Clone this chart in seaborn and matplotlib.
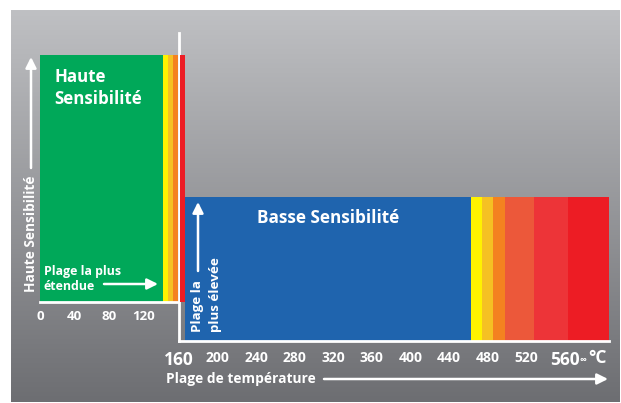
import numpy as np
import seaborn as sns
import matplotlib.pyplot as plt

# ======================================
# DATA
# ======================================

# high sensitivity range (left panel), temperature edges
left_starts = [0, 143, 149, 155, 162.5]
left_ends = [143, 149, 155, 160.5, 168.5]
left_colors = ["#00a859", "#fff200", "#f5c123", "#f48220", "#ed1c24"]
left_ticks = [0, 40, 80, 120]

# low sensitivity range (right panel)
right_starts = [166, 463, 474, 486, 498, 528, 563.5]
right_ends = [463, 474, 486, 498, 528, 563.5, 606]
right_colors = ["#1f64ae", "#fff200", "#f5c123", "#f48220",
                "#ec583a", "#ed3438", "#ed1c24"]
right_ticks = [160, 200, 240, 280, 320, 360, 400, 440, 480, 520, 560]

high_level = 1.0
low_level = 1.0

# ======================================
# STYLE
# ======================================

sns.set_theme(style="white")
plt.rcParams["font.family"] = ["Open Sans", "DejaVu Sans"]

W, H = 621, 403
fig = plt.figure(figsize=(W / 100, H / 100), dpi=100)
fig.patch.set_facecolor("white")


def frac(x0, y0, x1, y1):
    # pixel box -> figure fraction rect
    return [x0 / W, 1 - y1 / H, (x1 - x0) / W, (y1 - y0) / H]


# background gradient
bg = fig.add_axes([0, 0, 1, 1], zorder=0)
grad = np.linspace(0, 1, 256).reshape(-1, 1)
top = np.array([0xbf, 0xc0, 0xc3]) / 255
bot = np.array([0x6d, 0x6e, 0x72]) / 255
img = top + (bot - top) * grad[..., None]
bg.imshow(img, extent=[11, 620, 402, 10], aspect="auto")
bg.set_xlim(0, W)
bg.set_ylim(H, 0)
bg.axis("off")

# ======================================
# LEFT PANEL
# ======================================

axl = fig.add_axes(frac(40, 55, 185, 302), zorder=2)
axl.patch.set_alpha(0)
axl.bar(
    left_starts,
    [high_level] * len(left_starts),
    width=np.array(left_ends) - np.array(left_starts),
    align="edge",
    color=left_colors,
    linewidth=0
)
axl.set_xlim(0, 168.6)
axl.set_ylim(0, 1)
sns.despine(ax=axl, left=True)
axl.spines["bottom"].set_color("white")
axl.spines["bottom"].set_linewidth(2)
axl.spines["bottom"].set_bounds(0, 160.5)
axl.set_yticks([])
axl.set_xticks(left_ticks)
axl.tick_params(axis="x", direction="inout", length=8, width=1.5,
                color="white", labelcolor="white", labelsize=9.5, pad=2)
for lab in axl.get_xticklabels():
    lab.set_fontweight("bold")

# ======================================
# RIGHT PANEL
# ======================================

axr = fig.add_axes(frac(179, 33, 609, 341), zorder=1)
axr.patch.set_alpha(0)
axr.bar(
    right_starts,
    [low_level] * len(right_starts),
    width=np.array(right_ends) - np.array(right_starts),
    align="edge",
    color=right_colors,
    linewidth=0
)
axr.set_xlim(160, 606)
axr.set_ylim(0, 308 / 144)
sns.despine(ax=axr)
for side in ["bottom", "left"]:
    axr.spines[side].set_color("white")
    axr.spines[side].set_linewidth(2)
    axr.spines[side].set_zorder(5)
axr.set_yticks([])
axr.set_xticks(right_ticks)
axr.tick_params(axis="x", direction="inout", length=9, width=1.5,
                color="white", labelcolor="white", labelsize=10, pad=3)
for lab in axr.get_xticklabels():
    lab.set_fontweight("bold")
    if lab.get_text() in ["160", "560"]:
        lab.set_fontsize(12.5)

# ======================================
# ANNOTATIONS (pixel coordinates)
# ======================================

ov = fig.add_axes([0, 0, 1, 1], zorder=10)
ov.patch.set_alpha(0)
ov.set_xlim(0, W)
ov.set_ylim(H, 0)
ov.axis("off")

txt = dict(color="white", fontweight="bold")
arrow = dict(arrowstyle="-|>", color="white", lw=1.8, mutation_scale=16,
             shrinkA=0, shrinkB=0)

ov.text(54, 82, "Haute", fontsize=12.2, va="baseline", **txt)
ov.text(54, 104, "Sensibilité", fontsize=12.2, va="baseline", **txt)

ov.text(44, 275, "Plage la plus", fontsize=8.9, va="baseline", **txt)
ov.text(44, 290, "étendue", fontsize=8.9, va="baseline", **txt)
ov.annotate("", xy=(158, 284), xytext=(104, 284), arrowprops=arrow)

ov.text(31, 292, "Haute Sensibilité", fontsize=9.8, rotation=90,
        ha="center", va="bottom", **txt)
ov.annotate("", xy=(31, 57), xytext=(31, 168), arrowprops=arrow)

ov.text(257, 223, "Basse Sensibilité", fontsize=12.3, va="baseline", **txt)

ov.text(197, 332, "Plage la", fontsize=9.6, rotation=90,
        ha="center", va="bottom", **txt)
ov.text(215, 332, "plus élevée", fontsize=9.6, rotation=90,
        ha="center", va="bottom", **txt)
ov.annotate("", xy=(198, 202), xytext=(198, 271), arrowprops=arrow)

ov.text(166, 379, "Plage de température", fontsize=9.9,
        va="center", **txt)
ov.annotate("", xy=(608, 379), xytext=(324, 379), arrowprops=arrow)

ov.text(583, 360, "∞", fontsize=7, ha="center", va="center", **txt)
ov.text(588, 358, "°C", fontsize=12.5, ha="left", va="center", **txt)

plt.savefig("out.png", dpi=100)
